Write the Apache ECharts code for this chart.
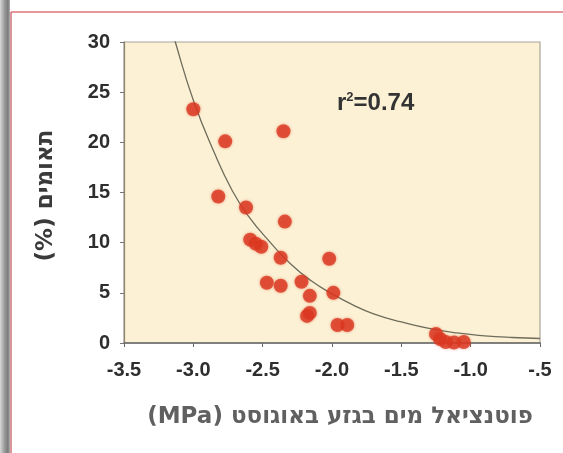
<!DOCTYPE html>
<html>
<head>
<meta charset="utf-8">
<script src="https://cdn.jsdelivr.net/npm/echarts@6/dist/echarts.min.js"></script>
<style>
html,body{margin:0;padding:0;background:#ffffff;}
#c{width:563px;height:453px;}
</style>
</head>
<body>
<div id="c"></div>
<script>
// Observed data points: [water potential (MPa), percent]
const pointsX = [-3.0, -2.77, -2.35, -2.82, -2.62, -2.34, -2.59, -2.55, -2.51, -2.37, -2.02, -2.47, -2.37, -2.22, -2.16, -1.99, -2.16, -2.18, -1.96, -1.89, -1.25, -1.22, -1.18, -1.12, -1.05];
const pointsY = [23.3, 20.1, 21.1, 14.6, 13.5, 12.1, 10.3, 9.9, 9.6, 8.5, 8.4, 6.0, 5.7, 6.1, 4.7, 5.0, 3.0, 2.7, 1.8, 1.8, 0.9, 0.4, 0.1, 0.05, 0.1];
// Fitted curve
const curveX = [-3.2, -3.13, -3.0, -2.85, -2.72, -2.6, -2.45, -2.3, -2.15, -2.0, -1.85, -1.7, -1.5, -1.3, -1.1, -0.9, -0.7, -0.5];
const curveY = [33.5, 30, 24.2, 19.0, 15.2, 12.6, 10.1, 7.9, 6.2, 4.9, 3.8, 2.9, 2.1, 1.45, 1.0, 0.72, 0.55, 0.45];
const xTickLabels = {'-3.5':'-3.5','-3':'-3.0','-2.5':'-2.5','-2':'-2.0','-1.5':'-1.5','-1':'-1.0','-0.5':'-.5'};
const xName = 'פוטנציאל מים בגזע באוגוסט (MPa)';
const yName = 'תאומים (%)';
const rText = '0.74';

const rtl = s => '\u202B' + s + '\u202C';
const scatterData = pointsX.map((x, i) => [x, pointsY[i]]);
const curveData = curveX.map((x, i) => [x, curveY[i]]);

const chart = echarts.init(document.getElementById('c'), null, {renderer: 'canvas'});
const labelFont = {fontFamily: 'Liberation Sans, Arial, sans-serif', fontWeight: 'bold', fontSize: 20, color: '#2e2e2e'};
chart.setOption({
  animation: false,
  backgroundColor: '#ffffff',
  grid: {left: 124, right: 23, top: 42, bottom: 110, show: true, backgroundColor: '#fcf1d4', borderColor: '#a8a399', borderWidth: 1.2},
  xAxis: {
    type: 'value', min: -3.5, max: -0.5, interval: 0.5,
    name: rtl(xName), nameLocation: 'middle', nameGap: 63,
    nameTextStyle: {fontFamily: 'DejaVu Sans, sans-serif', fontSize: 23, fontWeight: 'bold', color: '#606060', padding: [0, 0, 0, 16]},
    axisLine: {show: true, onZero: false, lineStyle: {color: '#666666', width: 1.5}},
    axisTick: {show: true, length: 4, inside: false, lineStyle: {color: '#666666'}},
    splitLine: {show: false},
    axisLabel: Object.assign({margin: 17, formatter: v => xTickLabels[String(v)] || String(v)}, labelFont)
  },
  yAxis: {
    type: 'value', min: 0, max: 30, interval: 5,
    name: rtl(yName), nameLocation: 'middle', nameGap: 66, nameRotate: 90,
    nameTextStyle: {fontFamily: 'DejaVu Sans, sans-serif', fontSize: 23, fontWeight: 'bold', color: '#3a3a3a', padding: [0, 6, 0, 0]},
    axisLine: {show: true, lineStyle: {color: '#8a8470', width: 1.2}},
    axisTick: {show: true, length: 4, lineStyle: {color: '#777777'}},
    splitLine: {show: false},
    axisLabel: Object.assign({margin: 14}, labelFont)
  },
  series: [
    {
      type: 'line', data: curveData, smooth: true, symbol: 'none', clip: true,
      lineStyle: {color: '#6e6c5c', width: 1.3}, z: 2
    },
    {
      type: 'scatter', data: scatterData, symbolSize: 14, clip: false,
      itemStyle: {color: '#da3620', shadowBlur: 3, shadowColor: 'rgba(220,60,30,0.6)'}, z: 3
    }
  ],
  graphic: [
    {type: 'rect', left: 0, top: 0, shape: {width: 10, height: 453}, z: -1,
     style: {fill: new echarts.graphic.LinearGradient(0, 0, 1, 0, [
       {offset: 0, color: '#d8d8d8'}, {offset: 0.45, color: '#9a9a9a'}, {offset: 0.8, color: '#7a7a7a'}, {offset: 1, color: '#b0b0b0'}])}},
    {type: 'line', shape: {x1: 11, y1: 12, x2: 563, y2: 12}, style: {stroke: '#d0303a', lineWidth: 1.2}},
    {type: 'line', shape: {x1: 11, y1: 12, x2: 11, y2: 453}, style: {stroke: '#d0707a', lineWidth: 1.5}},
    {type: 'text', left: 337, top: 91, z: 10,
     style: {text: '{r|r}{s|2}{t|=' + rText + '}', rich: {
       r: {fontFamily: 'Liberation Sans, Arial, sans-serif', fontWeight: 'bold', fontSize: 24, fill: '#333333'},
       s: {fontFamily: 'Liberation Sans, Arial, sans-serif', fontWeight: 'bold', fontSize: 13, fill: '#333333', verticalAlign: 'top', padding: [0, 0, 12, 0]},
       t: {fontFamily: 'Liberation Sans, Arial, sans-serif', fontWeight: 'bold', fontSize: 24, fill: '#333333'}
     }}}
  ]
});
</script>
</body>
</html>
